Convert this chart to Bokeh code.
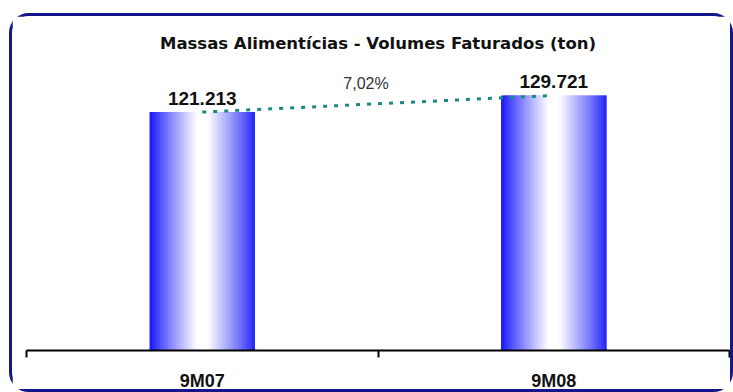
from bokeh.plotting import figure
from bokeh.models import FixedTicker, Range1d, ColumnDataSource
from bokeh.core.properties import value
from bokeh.embed import file_html
from bokeh.resources import INLINE

# ---- data ----
categories = ["9M07", "9M08"]
volumes = [121213, 129721]
value_labels = ["121.213", "129.721"]
growth_label = ["7,02%"]
title_text = "Massas Alimentícias - Volumes Faturados (ton)"

FONT = "Liberation Sans"

p = figure(width=724, height=379, output_backend="svg", toolbar_location=None,
           x_range=Range1d(0, len(categories)), y_range=Range1d(0, 150000),
           y_axis_location=None, min_border_left=14, min_border_right=7,
           min_border_top=39, min_border_bottom=45)
p.styles = {"margin-left": "9px", "margin-top": "13px",
            "border": "3px solid #16168c", "border-radius": "20px"}
p.title.text = title_text
p.title.align = "center"
p.title.text_font = "DejaVu Sans"
p.title.text_font_size = "16.5px"
p.title.text_font_style = "bold"
p.title.text_color = "#111111"
p.title.standoff = 6
p.outline_line_color = None
p.xgrid.visible = False
p.ygrid.visible = False
p.background_fill_color = "white"
p.border_fill_color = "white"

# ---- gradient bars built from overlapping thin strips ----
bar_w = 0.30
N = 40
def grad(t):
    left = (20, 20, 255)
    right = (34, 34, 248)
    if t < 0.45:
        m = (t / 0.45) ** 0.9
        c = tuple(int(left[k] + (255 - left[k]) * m) for k in range(3))
    elif t < 0.55:
        c = (255, 255, 255)
    else:
        m = ((1 - t) / 0.45) ** 0.9
        c = tuple(int(right[k] + (255 - right[k]) * m) for k in range(3))
    return "#%02x%02x%02x" % c

lefts, rights, tops, cols = [], [], [], []
dw = bar_w / N
for i, v in enumerate(volumes):
    x0 = i + 0.5 - bar_w / 2
    for j in range(N):
        t = (j + 0.5) / N
        lefts.append(x0 + j * dw)
        rights.append(min(x0 + (j + 2.0) * dw, x0 + bar_w))
        tops.append(v)
        cols.append(grad(t))
p.quad(left=lefts, right=rights, top=tops, bottom=0, color=cols, line_color=None)

centers = [i + 0.5 for i in range(len(categories))]

# dotted trend line between bar tops
p.line(x=centers, y=volumes, line_color="#1a8a80", line_width=3, line_dash="4 7")

# value labels
src = ColumnDataSource(dict(x=centers, y=volumes, t=value_labels))
p.text(x="x", y="y", text="t", source=src, text_align="center", text_baseline="bottom",
       y_offset=-7, text_font=value(FONT), text_font_size="19px", text_font_style="bold",
       text_color="#111111")

# growth label
mid_x = [sum(centers) / len(centers)]
mid_y = [sum(volumes) / len(volumes)]
p.text(x=mid_x, y=mid_y, text=growth_label, text_align="center", text_baseline="bottom",
       x_offset=-12, y_offset=-12, text_font=value(FONT), text_font_size="16px",
       text_color="#333333")

# x axis: ticks at boundaries, labels at centres
ax = p.xaxis[0]
ax.ticker = FixedTicker(ticks=centers, minor_ticks=list(range(len(categories) + 1)))
ax.major_label_overrides = {c: lab for c, lab in zip(centers, categories)}
ax.major_tick_out = 0
ax.major_tick_in = 0
ax.minor_tick_out = 7
ax.minor_tick_in = 0
ax.minor_tick_line_color = "black"
ax.minor_tick_line_width = 2
ax.axis_line_color = "black"
ax.axis_line_width = 2
ax.major_label_standoff = 13
ax.major_label_text_font = FONT
ax.major_label_text_font_size = "18px"
ax.major_label_text_font_style = "bold"
ax.major_label_text_color = "#111111"

open("out.html", "w").write(file_html(p, INLINE))
